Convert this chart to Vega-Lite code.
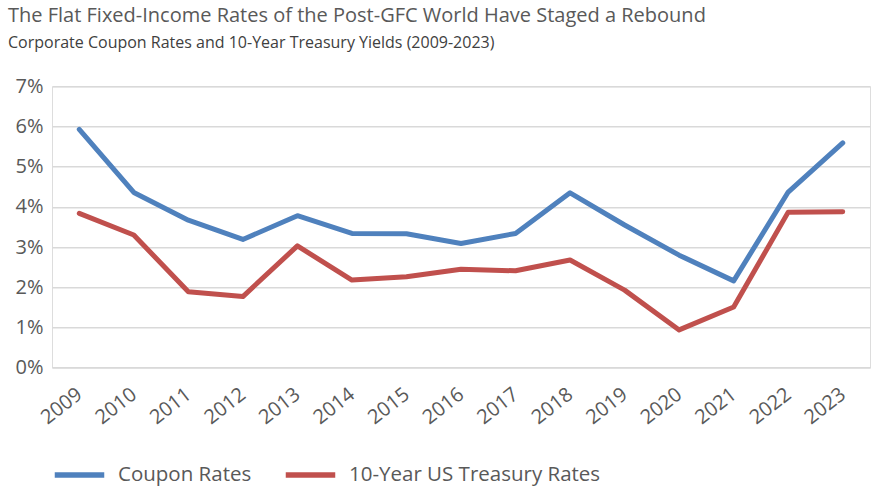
{
  "$schema": "https://vega.github.io/schema/vega-lite/v6.json",
  "width": 818,
  "height": 281.4,
  "autosize": {"type": "none"},
  "padding": {"left": 52, "top": 86.3, "right": 12, "bottom": 124.3},
  "background": "white",
  "title": {
    "text": "The Flat Fixed-Income Rates of the Post-GFC World Have Staged a Rebound",
    "subtitle": "Corporate Coupon Rates and 10-Year Treasury Yields (2009-2023)",
    "anchor": "start",
    "frame": "group",
    "dx": -44,
    "offset": 25,
    "font": "Open Sans",
    "fontSize": 20,
    "fontWeight": "normal",
    "color": "#595959",
    "subtitleFont": "Open Sans",
    "subtitleFontSize": 16,
    "subtitleColor": "#404040",
    "subtitlePadding": 9
  },
  "data": {
    "values": [
      {"year": "2009", "series": "Coupon Rates", "value": 0.0593},
      {"year": "2010", "series": "Coupon Rates", "value": 0.0436},
      {"year": "2011", "series": "Coupon Rates", "value": 0.0367},
      {"year": "2012", "series": "Coupon Rates", "value": 0.0319},
      {"year": "2013", "series": "Coupon Rates", "value": 0.0378},
      {"year": "2014", "series": "Coupon Rates", "value": 0.0334},
      {"year": "2015", "series": "Coupon Rates", "value": 0.0333},
      {"year": "2016", "series": "Coupon Rates", "value": 0.0309},
      {"year": "2017", "series": "Coupon Rates", "value": 0.0334},
      {"year": "2018", "series": "Coupon Rates", "value": 0.0435},
      {"year": "2019", "series": "Coupon Rates", "value": 0.0355},
      {"year": "2020", "series": "Coupon Rates", "value": 0.0280},
      {"year": "2021", "series": "Coupon Rates", "value": 0.0216},
      {"year": "2022", "series": "Coupon Rates", "value": 0.0437},
      {"year": "2023", "series": "Coupon Rates", "value": 0.0559},
      {"year": "2009", "series": "10-Year US Treasury Rates", "value": 0.0384},
      {"year": "2010", "series": "10-Year US Treasury Rates", "value": 0.0330},
      {"year": "2011", "series": "10-Year US Treasury Rates", "value": 0.0189},
      {"year": "2012", "series": "10-Year US Treasury Rates", "value": 0.0177},
      {"year": "2013", "series": "10-Year US Treasury Rates", "value": 0.0303},
      {"year": "2014", "series": "10-Year US Treasury Rates", "value": 0.0218},
      {"year": "2015", "series": "10-Year US Treasury Rates", "value": 0.0226},
      {"year": "2016", "series": "10-Year US Treasury Rates", "value": 0.0245},
      {"year": "2017", "series": "10-Year US Treasury Rates", "value": 0.0241},
      {"year": "2018", "series": "10-Year US Treasury Rates", "value": 0.0268},
      {"year": "2019", "series": "10-Year US Treasury Rates", "value": 0.0193},
      {"year": "2020", "series": "10-Year US Treasury Rates", "value": 0.0094},
      {"year": "2021", "series": "10-Year US Treasury Rates", "value": 0.0151},
      {"year": "2022", "series": "10-Year US Treasury Rates", "value": 0.0387},
      {"year": "2023", "series": "10-Year US Treasury Rates", "value": 0.0388}
    ]
  },
  "mark": {"type": "line", "strokeWidth": 5, "strokeCap": "round", "strokeJoin": "round"},
  "encoding": {
    "x": {
      "field": "year",
      "type": "ordinal",
      "scale": {"type": "point", "padding": 0.5},
      "axis": {
        "title": null,
        "domain": false,
        "ticks": false,
        "grid": false,
        "labelAngle": -38,
        "labelAlign": "right",
        "labelBaseline": "middle",
        "labelPadding": 24,
        "labelFont": "Open Sans",
        "labelFontSize": 20,
        "labelColor": "#595959"
      }
    },
    "y": {
      "field": "value",
      "type": "quantitative",
      "scale": {"domain": [0, 0.07], "nice": false},
      "axis": {
        "title": null,
        "values": [0, 0.01, 0.02, 0.03, 0.04, 0.05, 0.06, 0.07],
        "format": ".0%",
        "domain": false,
        "ticks": false,
        "gridColor": "#d9d9d9",
        "gridWidth": 1.5,
        "labelPadding": 9,
        "labelFont": "Open Sans",
        "labelFontSize": 20,
        "labelColor": "#595959"
      }
    },
    "color": {
      "field": "series",
      "type": "nominal",
      "sort": ["Coupon Rates", "10-Year US Treasury Rates"],
      "scale": {"domain": ["Coupon Rates", "10-Year US Treasury Rates"], "range": ["#4F81BD", "#C0504D"]},
      "legend": {
        "title": null,
        "orient": "none",
        "direction": "horizontal",
        "legendX": 0,
        "legendY": 361,
        "symbolType": "stroke",
        "symbolSize": 2450,
        "symbolStrokeWidth": 5.5,
        "labelFont": "Open Sans",
        "labelFontSize": 20.5,
        "labelColor": "#595959",
        "labelOffset": 11,
        "labelLimit": 500,
        "columnPadding": 22,
        "padding": 0
      }
    }
  }
}
